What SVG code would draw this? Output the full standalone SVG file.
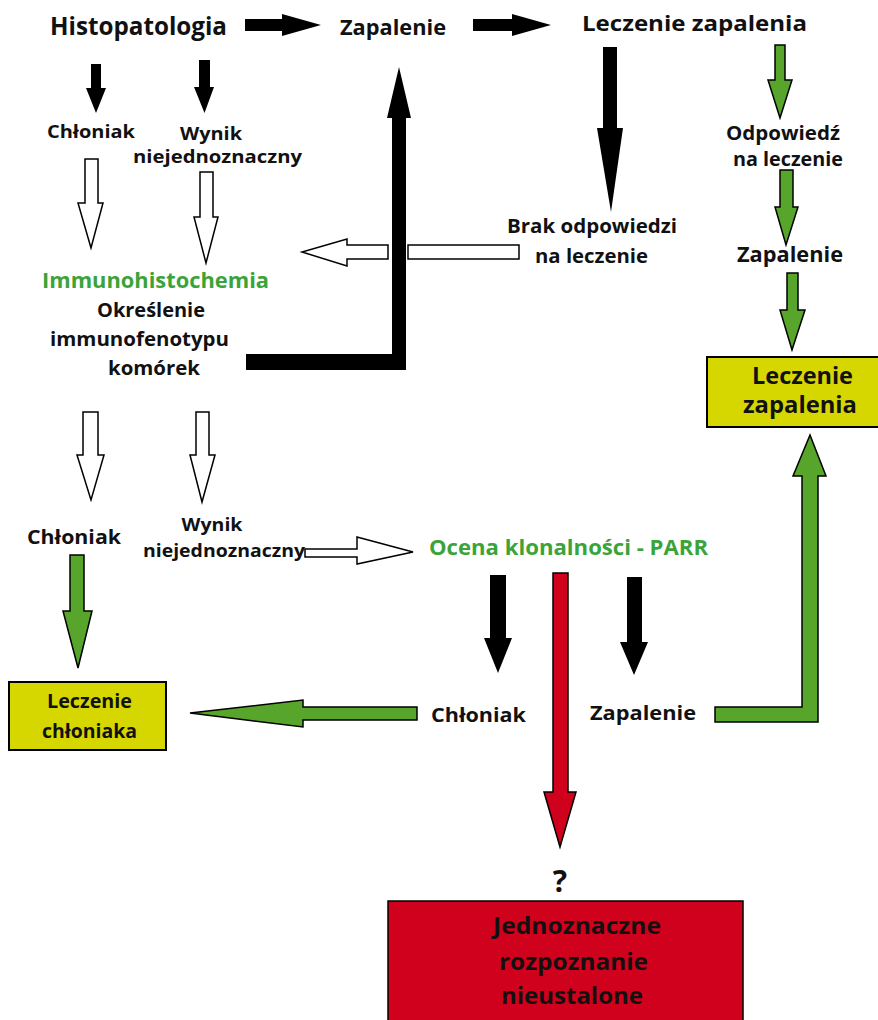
<svg xmlns="http://www.w3.org/2000/svg" width="878" height="1020" viewBox="0 0 878 1020">
<style>
text{font-family:"Open Sans","Liberation Sans",sans-serif;font-weight:bold;fill:#111;text-anchor:middle}
.g{fill:#3aa43a}
.blk{fill:#000}
.hol{fill:#fff;stroke:#000;stroke-width:1.5;stroke-linejoin:miter}
.grn{fill:#58a52b;stroke:#000;stroke-width:1.5}
.red{fill:#d0011c;stroke:#000;stroke-width:1.5}
.yb{fill:#d6d600;stroke:#000;stroke-width:2}
.rb{fill:#d0011c;stroke:#000;stroke-width:1.5}
</style>
<rect width="878" height="1020" fill="#fff"/>
<g id="connectors">
<polygon class="blk" points="245,19 282,19 282,14 321,25 282,36 282,31 245,31"/>
<polygon class="blk" points="473,19 512,19 512,14 551,25 512,36 512,31 473,31"/>
<polygon class="blk" points="91,64 101,64 101,88 106,88 96,113 86,88 91,88"/>
<polygon class="blk" points="199,60 210,60 210,87 214,87 204.5,113 194,87 199,87"/>
<polygon class="blk" points="603,47 617,47 617,128 623,128 611,212 597,128 603,128"/>
<polygon class="blk" points="246,354 392,354 392,118 387,118 399,67 411,118 406,118 406,370 246,370"/>
<polygon class="hol" points="388,245 347,245 347,239 302,252 347,266 347,259 388,259"/>
<rect class="hol" x="408" y="245" width="111" height="14"/>
<polygon class="hol" points="85,159 98,159 98,203 103,203 91,248 78,203 85,203"/>
<polygon class="hol" points="200,172 213,172 213,217 218,217 206,263 194,217 200,217"/>
<polygon class="hol" points="83,412 98,412 98,455 104,455 91,500 77,455 83,455"/>
<polygon class="hol" points="196,412 209,412 209,455 215,455 202,502 190,455 196,455"/>
<polygon class="hol" points="305,549 357,549 357,537 413,552 357,564 357,557 305,557"/>
<polygon class="grn" points="775,45 785,45 785,80 792,80 780,118 768,80 775,80"/>
<polygon class="grn" points="780,170 793,170 793,207 798,207 786,245 775,207 780,207"/>
<polygon class="grn" points="787,273 798,273 798,310 805,310 792,350 780,310 787,310"/>
<polygon class="grn" points="70,555 84,555 84,611 92,611 78,668 63,611 70,611"/>
<polygon class="grn" points="417,707 303,707 303,700 190,713 303,727 303,720 417,720"/>
<polygon class="grn" points="715,707 802,707 802,476 793,476 810,435 826,476 818,476 818,722 715,722"/>
<polygon class="blk" points="490,575 506,575 506,638 512,638 498,673 484,638 490,638"/>
<polygon class="blk" points="627,577 642,577 642,642 648,642 634,675 620,642 627,642"/>
<polygon class="red" points="553,573 568,573 568,792 576,792 560,847 544,792 553,792"/>
</g>
<g id="n-histopatologia"><text x="138.5" y="35" font-size="25" textLength="177" lengthAdjust="spacingAndGlyphs">Histopatologia</text></g>
<g id="n-zapalenie-top"><text x="393" y="35" font-size="20.5" textLength="106" lengthAdjust="spacingAndGlyphs">Zapalenie</text></g>
<g id="n-leczenie-zapalenia-top"><text x="694.5" y="31" font-size="21.5" textLength="225" lengthAdjust="spacingAndGlyphs">Leczenie zapalenia</text></g>
<g id="n-chloniak-1"><text x="91" y="138" font-size="18.5" textLength="88" lengthAdjust="spacingAndGlyphs">Chłoniak</text></g>
<g id="n-wynik-1"><text x="211" y="140" font-size="18.5" textLength="62" lengthAdjust="spacingAndGlyphs">Wynik</text><text x="217.5" y="163" font-size="18.5" textLength="169" lengthAdjust="spacingAndGlyphs">niejednoznaczny</text></g>
<g id="n-odpowiedz"><text x="783" y="140" font-size="19" textLength="114" lengthAdjust="spacingAndGlyphs">Odpowiedź</text><text x="788" y="166" font-size="19" textLength="110" lengthAdjust="spacingAndGlyphs">na leczenie</text></g>
<g id="n-brak"><text x="592" y="233" font-size="19.5" textLength="170" lengthAdjust="spacingAndGlyphs">Brak odpowiedzi</text><text x="591.5" y="263" font-size="19.5" textLength="113" lengthAdjust="spacingAndGlyphs">na leczenie</text></g>
<g id="n-zapalenie-right"><text x="790" y="262" font-size="20.5" textLength="106" lengthAdjust="spacingAndGlyphs">Zapalenie</text></g>
<g id="n-ihc"><text class="g" x="155.5" y="288" font-size="20.5" textLength="227" lengthAdjust="spacingAndGlyphs">Immunohistochemia</text><text x="151" y="317" font-size="19.5" textLength="108" lengthAdjust="spacingAndGlyphs">Określenie</text><text x="139.5" y="346" font-size="19.5" textLength="179" lengthAdjust="spacingAndGlyphs">immunofenotypu</text><text x="154" y="375" font-size="19.5" textLength="92" lengthAdjust="spacingAndGlyphs">komórek</text></g>
<g id="n-leczenie-zapalenia-box"><rect class="yb" x="707" y="357" width="180" height="70"/><text x="802.5" y="384" font-size="22.5" textLength="101" lengthAdjust="spacingAndGlyphs">Leczenie</text><text x="800" y="413" font-size="22.5" textLength="114" lengthAdjust="spacingAndGlyphs">zapalenia</text></g>
<g id="n-chloniak-2"><text x="74" y="544" font-size="19" textLength="94" lengthAdjust="spacingAndGlyphs">Chłoniak</text></g>
<g id="n-wynik-2"><text x="212" y="531" font-size="17.5" textLength="61" lengthAdjust="spacingAndGlyphs">Wynik</text><text x="224" y="557" font-size="17.5" textLength="162" lengthAdjust="spacingAndGlyphs">niejednoznaczny</text></g>
<g id="n-parr"><text class="g" x="568.5" y="555" font-size="20.5" textLength="279" lengthAdjust="spacingAndGlyphs">Ocena klonalności - PARR</text></g>
<g id="n-chloniak-3"><text x="478.5" y="722" font-size="19.5" textLength="95" lengthAdjust="spacingAndGlyphs">Chłoniak</text></g>
<g id="n-zapalenie-3"><text x="643" y="720" font-size="19.5" textLength="106" lengthAdjust="spacingAndGlyphs">Zapalenie</text></g>
<g id="n-leczenie-chloniaka"><rect class="yb" x="9" y="682" width="157" height="68"/><text x="89.5" y="708" font-size="19.5" textLength="85" lengthAdjust="spacingAndGlyphs">Leczenie</text><text x="89.5" y="738" font-size="19.5" textLength="95" lengthAdjust="spacingAndGlyphs">chłoniaka</text></g>
<g id="n-question"><text x="560" y="892" font-size="30">?</text></g>
<g id="n-nieustalone"><rect class="rb" x="388" y="901" width="355" height="125"/><text x="577" y="934" font-size="23.5" textLength="168" lengthAdjust="spacingAndGlyphs">Jednoznaczne</text><text x="573.5" y="970" font-size="23.5" textLength="149" lengthAdjust="spacingAndGlyphs">rozpoznanie</text><text x="572" y="1004" font-size="23.5" textLength="142" lengthAdjust="spacingAndGlyphs">nieustalone</text></g>
</svg>
